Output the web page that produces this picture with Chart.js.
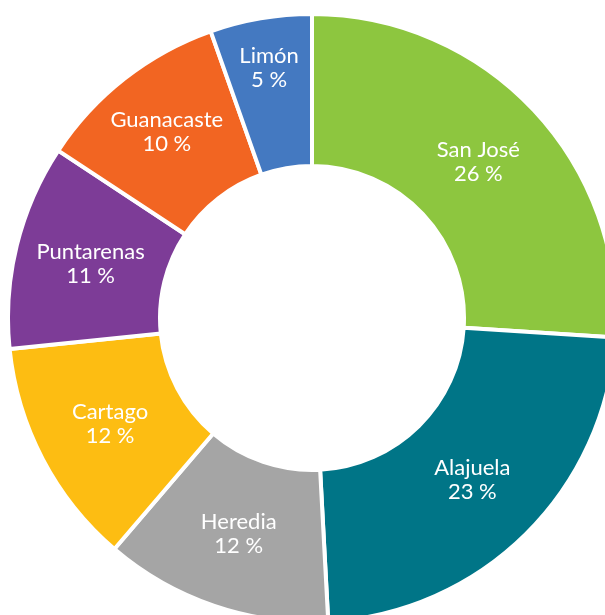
<!DOCTYPE html>
<html>
<head>
<meta charset="utf-8">
<script src="https://cdn.jsdelivr.net/npm/chart.js@4/dist/chart.umd.min.js"></script>
<style>
  html, body { margin: 0; padding: 0; background: #fff; overflow: hidden; width: 605px; height: 615px; }
  #wrap { position: absolute; left: 6px; top: 12px; width: 612px; height: 612px; }
</style>
</head>
<body>
<div id="wrap"><canvas id="donut" width="612" height="612"></canvas></div>
<script>
// provincias y porcentajes
const provincias = ['San José', 'Alajuela', 'Heredia', 'Cartago', 'Puntarenas', 'Guanacaste', 'Limón'];
const porcentajes = [26.0, 23.1, 12.1, 12.1, 10.9, 10.3, 5.4];
const colores = ['#8dc63f', '#007587', '#a5a5a5', '#fdbd12', '#7d3c97', '#f26522', '#4479c1'];

// etiquetas dentro de cada porcion
const etiquetas = {
  id: 'etiquetas',
  afterDatasetsDraw(chart) {
    const ctx = chart.ctx;
    const meta = chart.getDatasetMeta(0);
    ctx.save();
    ctx.font = '22px Lato';
    ctx.fillStyle = '#fff';
    ctx.textAlign = 'center';
    ctx.textBaseline = 'middle';
    meta.data.forEach((arc, i) => {
      const p = arc.getProps(['startAngle', 'endAngle', 'innerRadius', 'outerRadius', 'x', 'y'], true);
      const ang = (p.startAngle + p.endAngle) / 2;
      const w = ctx.measureText(provincias[i]).width;
      // empujar hacia afuera si la porcion es angosta
      let r = (p.innerRadius + p.outerRadius) / 2;
      const need = (w + 40) / (p.endAngle - p.startAngle);
      r = Math.min(Math.max(r, need), p.outerRadius - 50);
      const x = p.x + Math.cos(ang) * r;
      const y = p.y + Math.sin(ang) * r;
      ctx.fillText(provincias[i], x, y - 12);
      ctx.fillText(Math.round(porcentajes[i]) + ' %', x, y + 12);
    });
    ctx.restore();
  }
};

new Chart(document.getElementById('donut'), {
  type: 'doughnut',
  data: {
    labels: provincias,
    datasets: [{
      data: porcentajes,
      backgroundColor: colores,
      borderColor: '#ffffff',
      borderWidth: 4
    }]
  },
  options: {
    responsive: false,
    animation: false,
    cutout: '50%',
    layout: { padding: 0 },
    events: [],
    plugins: {
      legend: { display: false },
      tooltip: { enabled: false }
    }
  },
  plugins: [etiquetas]
});
</script>
</body>
</html>
